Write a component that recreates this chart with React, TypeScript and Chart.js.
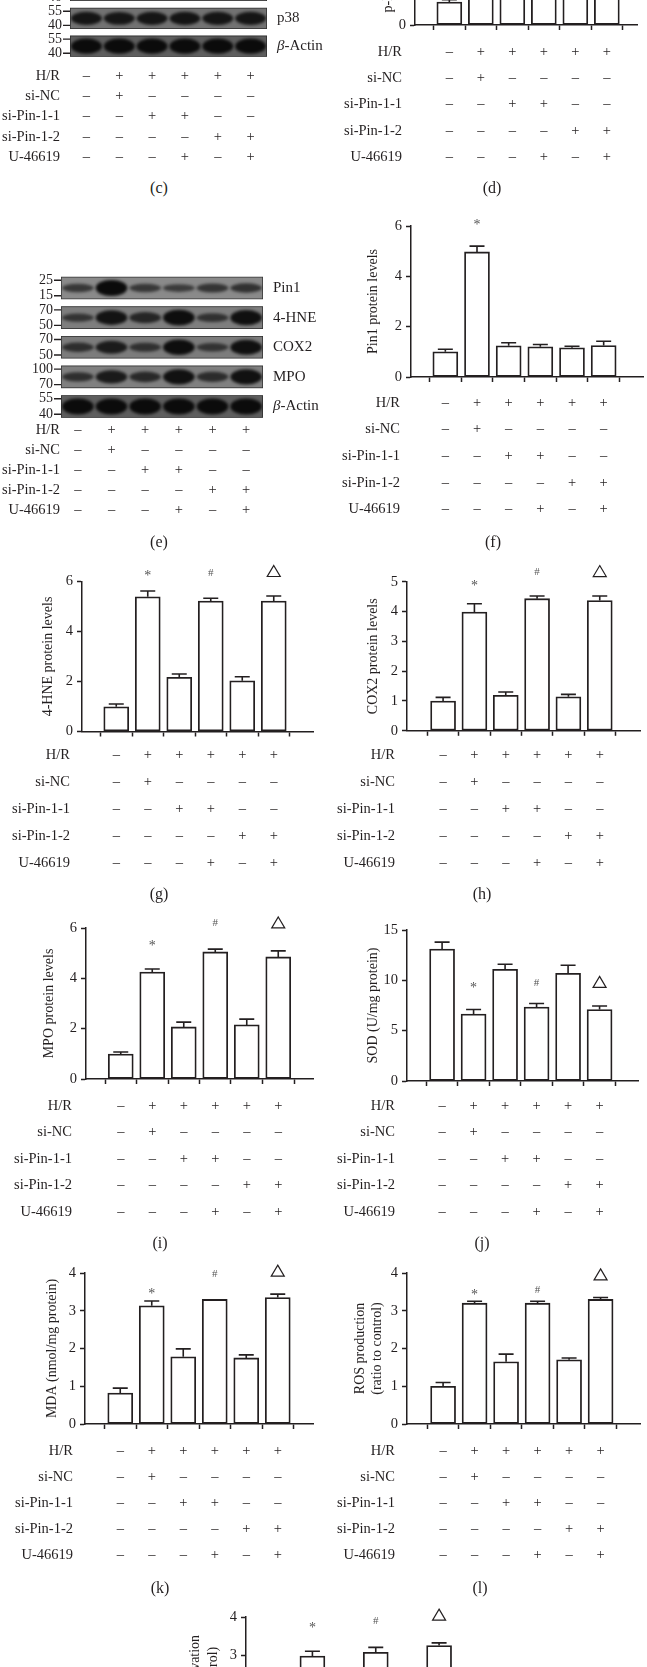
import React, { useEffect, useRef } from 'react';
import { Chart, registerables } from 'chart.js';
Chart.register(...registerables);

const FONT = '"Liberation Serif", "Times New Roman", serif';
const INK = '#231f20';

// ---------- shared treatment table ----------
const groupIdx = [0, 1, 2, 3, 4, 5];
const conditionRows = ['H/R', 'si-NC', 'si-Pin-1-1', 'si-Pin-1-2', 'U-46619'];
const condHR = ['–', '+', '+', '+', '+', '+'];
const condSiNC = ['–', '+', '–', '–', '–', '–'];
const condSiPin11 = ['–', '–', '+', '+', '–', '–'];
const condSiPin12 = ['–', '–', '–', '–', '+', '+'];
const condU46619 = ['–', '–', '–', '+', '–', '+'];
const conditionTable = [condHR, condSiNC, condSiPin11, condSiPin12, condU46619];

// ---------- (c) western blot ----------
const blotCNames = ['p-P38', 'p38', 'β-Actin'];
const blotCMwTop = ['55', '55', '55'];
const blotCMwBottom = ['40', '40', '40'];
const bandPP38 = [0.3, 0.9, 0.5, 0.9, 0.5, 0.9];
const bandP38 = [0.8, 0.78, 0.8, 0.82, 0.8, 0.8];
const bandActinC = [1, 1, 1, 1, 1, 1];

// ---------- (e) western blot ----------
const blotENames = ['Pin1', '4-HNE', 'COX2', 'MPO', 'β-Actin'];
const blotEMwTop = ['25', '70', '70', '100', '55'];
const blotEMwBottom = ['15', '50', '50', '70', '40'];
const bandPin1 = [0.3, 1.0, 0.3, 0.25, 0.35, 0.4];
const band4HNE = [0.3, 0.85, 0.55, 0.95, 0.35, 0.9];
const bandCOX2 = [0.4, 0.7, 0.35, 0.95, 0.3, 0.9];
const bandMPO = [0.4, 0.75, 0.5, 0.9, 0.45, 0.9];
const bandActinE = [1, 1, 1, 1, 1, 1];

// ---------- bar chart values (mean, SEM, significance marks) ----------
const dMeans = [1.0, 3.6, 1.6, 3.8, 1.7, 3.7];
const dSem = [0.1, 0.2, 0.15, 0.2, 0.15, 0.2];
const dMarks = ['', '*', '', '#', '', '△'];
const dMarkLevels = [0, 4.3, 0, 4.5, 0, 4.5];

const fMeans = [1.0, 4.97, 1.24, 1.2, 1.16, 1.25];
const fSem = [0.1, 0.23, 0.12, 0.09, 0.06, 0.17];
const fMarks = ['', '*', '', '', '', ''];
const fMarkLevels = [0, 6.16, 0, 0, 0, 0];

const gMeans = [0.99, 5.39, 2.17, 5.22, 2.03, 5.22];
const gSem = [0.11, 0.23, 0.13, 0.11, 0.16, 0.2];
const gMarks = ['', '*', '', '#', '', '△'];
const gMarkLevels = [0, 6.36, 0, 6.36, 0, 6.4];

const hMeans = [1.0, 3.98, 1.19, 4.43, 1.14, 4.37];
const hSem = [0.12, 0.28, 0.11, 0.09, 0.08, 0.15];
const hMarks = ['', '*', '', '#', '', '△'];
const hMarkLevels = [0, 4.97, 0, 5.34, 0, 5.34];

const iMeans = [0.99, 4.25, 2.07, 5.05, 2.15, 4.85];
const iSem = [0.08, 0.12, 0.19, 0.11, 0.23, 0.24];
const iMarks = ['', '*', '', '#', '', '△'];
const iMarkLevels = [0, 5.4, 0, 6.2, 0, 6.2];

const jMeans = [13.1, 6.65, 11.1, 7.35, 10.7, 7.1];
const jSem = [0.7, 0.45, 0.5, 0.35, 0.8, 0.35];
const jMarks = ['', '*', '', '#', '', '△'];
const jMarkLevels = [0, 9.5, 0, 9.8, 0, 9.8];

const kMeans = [0.82, 3.13, 1.78, 3.3, 1.75, 3.35];
const kSem = [0.13, 0.13, 0.21, 0, 0.08, 0.09];
const kMarks = ['', '*', '', '#', '', '△'];
const kMarkLevels = [0, 3.52, 0, 4.0, 0, 4.05];

const lMeans = [1.0, 3.2, 1.65, 3.2, 1.7, 3.3];
const lSem = [0.1, 0.05, 0.2, 0.05, 0.05, 0.05];
const lMarks = ['', '*', '', '#', '', '△'];
const lMarkLevels = [0, 3.5, 0, 3.55, 0, 3.95];

const mMeans = [1.0, 2.97, 1.6, 3.07, 1.65, 3.25];
const mSem = [0.1, 0.13, 0.2, 0.13, 0.1, 0.07];
const mMarks = ['', '*', '', '#', '', '△'];
const mMarkLevels = [0, 3.79, 0, 3.92, 0, 4.05];

// ---------- plugins ----------
function tablePlugin(t: any) {
  return {
    id: 'condTable',
    afterDraw(chart: any) {
      const ctx = chart.ctx;
      const xs = chart.scales.x;
      const base = chart.chartArea.bottom;
      ctx.save();
      ctx.font = `14.5px ${FONT}`;
      ctx.fillStyle = INK;
      ctx.textBaseline = 'middle';
      conditionRows.forEach((name, r) => {
        const y = base + t.rowOffset + r * t.rowGap;
        ctx.textAlign = 'right';
        ctx.fillText(name, t.labelRight - t.canvasX, y);
        ctx.textAlign = 'center';
        conditionTable[r].forEach((v, c) => {
          ctx.fillText(v, xs.getPixelForValue(groupIdx[c]), y);
        });
      });
      ctx.restore();
    },
  };
}

function errorBarPlugin(means: number[], sems: number[]) {
  return {
    id: 'errBars',
    afterDatasetsDraw(chart: any) {
      const ctx = chart.ctx;
      const ys = chart.scales.y;
      const meta = chart.getDatasetMeta(0);
      ctx.save();
      ctx.strokeStyle = INK;
      ctx.lineWidth = 1.6;
      meta.data.forEach((bar: any, i: number) => {
        if (!sems[i]) return;
        const top = ys.getPixelForValue(means[i] + sems[i]);
        ctx.beginPath();
        ctx.moveTo(bar.x, bar.y);
        ctx.lineTo(bar.x, top);
        ctx.moveTo(bar.x - 7.5, top);
        ctx.lineTo(bar.x + 7.5, top);
        ctx.stroke();
      });
      ctx.restore();
    },
  };
}

function markPlugin(marks: string[], levels: number[]) {
  return {
    id: 'sigMarks',
    afterDraw(chart: any) {
      const ctx = chart.ctx;
      const ys = chart.scales.y;
      const meta = chart.getDatasetMeta(0);
      ctx.save();
      meta.data.forEach((bar: any, i: number) => {
        const m = marks[i];
        if (!m) return;
        const x = bar.x;
        const y = ys.getPixelForValue(levels[i]);
        if (m === '△') {
          ctx.strokeStyle = INK;
          ctx.lineWidth = 1.2;
          ctx.beginPath();
          ctx.moveTo(x, y - 6);
          ctx.lineTo(x + 6.5, y + 5);
          ctx.lineTo(x - 6.5, y + 5);
          ctx.closePath();
          ctx.stroke();
        } else {
          ctx.fillStyle = '#555';
          ctx.font = `${m === '*' ? 14 : 11}px ${FONT}`;
          ctx.textAlign = 'center';
          ctx.textBaseline = 'alphabetic';
          const mt = ctx.measureText(m);
          const base = y + (mt.actualBoundingBoxAscent - mt.actualBoundingBoxDescent) / 2;
          ctx.fillText(m, x, base);
        }
      });
      ctx.restore();
    },
  };
}

function titlePlugin(lines: string[], xs: number[], canvasX: number) {
  return {
    id: 'yTitle',
    afterDraw(chart: any) {
      const ctx = chart.ctx;
      const a = chart.chartArea;
      const cy = (a.top + a.bottom) / 2;
      ctx.save();
      ctx.font = `14px ${FONT}`;
      ctx.fillStyle = INK;
      ctx.textAlign = 'center';
      ctx.textBaseline = 'middle';
      lines.forEach((ln, k) => {
        ctx.save();
        ctx.translate(xs[k] - canvasX, cy);
        ctx.rotate(-Math.PI / 2);
        ctx.fillText(ln, 0, 0);
        ctx.restore();
      });
      ctx.restore();
    },
  };
}

function drawProteinName(ctx: any, name: string, x: number, y: number) {
  ctx.textAlign = 'left';
  ctx.textBaseline = 'middle';
  if (name.startsWith('β')) {
    ctx.font = `italic 15px ${FONT}`;
    ctx.fillText('β', x, y);
    const w = ctx.measureText('β').width;
    ctx.font = `15px ${FONT}`;
    ctx.fillText(name.slice(1), x + w, y);
  } else {
    ctx.font = `15px ${FONT}`;
    ctx.fillText(name, x, y);
  }
}

function blotPlugin(b: any) {
  return {
    id: 'blot',
    afterDatasetsDraw(chart: any) {
      const ctx = chart.ctx;
      const xs = chart.scales.x;
      const ys = chart.scales.y;
      const a = chart.chartArea;
      const S = Math.abs(ys.getPixelForValue(1) - ys.getPixelForValue(0));
      const lane = xs.getPixelForValue(1) - xs.getPixelForValue(0);
      ctx.save();
      b.strips.forEach((st: any, si: number) => {
        const cy = ys.getPixelForValue(si);
        const h = S * 0.76;
        const top = cy - h / 2;
        // strip background
        ctx.save();
        ctx.beginPath();
        ctx.rect(a.left, top, a.right - a.left, h);
        ctx.clip();
        ctx.fillStyle = st.bg;
        ctx.fillRect(a.left, top, a.right - a.left, h);
        ctx.filter = 'blur(1.4px)';
        st.bands.forEach((k: number, c: number) => {
          const cx = xs.getPixelForValue(groupIdx[c]);
          const bh = h * (0.22 + 0.5 * k);
          ctx.globalAlpha = 0.5 + 0.5 * k;
          ctx.fillStyle = '#0b0b0b';
          ctx.beginPath();
          ctx.ellipse(cx, cy, lane * 0.47, bh / 2, 0, 0, Math.PI * 2);
          ctx.fill();
        });
        ctx.filter = 'none';
        ctx.globalAlpha = 1;
        ctx.strokeStyle = 'rgba(30,30,30,0.8)';
        ctx.lineWidth = 1.5;
        ctx.strokeRect(a.left, top, a.right - a.left, h);
        ctx.restore();
        // MW labels + ticks
        ctx.fillStyle = INK;
        ctx.strokeStyle = INK;
        ctx.lineWidth = 1.3;
        ctx.font = `14px ${FONT}`;
        ctx.textAlign = 'right';
        ctx.textBaseline = 'middle';
        const yT = top + 3.5;
        const yB = top + h - 3.5;
        ctx.fillText(st.mwTop, a.left - 8, yT);
        ctx.fillText(st.mwBottom, a.left - 8, yB);
        ctx.beginPath();
        ctx.moveTo(a.left - 7, yT);
        ctx.lineTo(a.left, yT);
        ctx.moveTo(a.left - 7, yB);
        ctx.lineTo(a.left, yB);
        ctx.stroke();
        drawProteinName(ctx, st.name, a.right + 10, cy);
      });
      ctx.restore();
    },
  };
}

// ---------- configs ----------
function barConfig(s: any) {
  const Wy = 30;
  const Hx = 5;
  const padL = s.axisX - s.canvas.x - Wy;
  const padR = s.canvas.x + s.canvas.w - s.xEnd;
  const padT = s.topY - s.canvas.y;
  const padB = s.canvas.y + s.canvas.h - s.zeroY - Hx;
  const xmin = -(s.firstTick - s.axisX) / s.spacing;
  const xmax = xmin + (s.xEnd - s.axisX) / s.spacing;
  return {
    type: 'bar',
    data: {
      datasets: [
        {
          data: groupIdx.map((g, i) => ({ x: g, y: s.means[i] })),
          backgroundColor: '#ffffff',
          borderColor: INK,
          borderWidth: 1.8,
          borderSkipped: false,
          barThickness: 25,
        },
      ],
    },
    options: {
      responsive: false,
      animation: false,
      devicePixelRatio: 1,
      events: [],
      layout: { padding: { left: padL, right: padR, top: padT, bottom: padB } },
      plugins: { legend: { display: false }, tooltip: { enabled: false } },
      scales: {
        x: {
          type: 'linear',
          min: xmin,
          max: xmax,
          ticks: { display: false, stepSize: 1, includeBounds: false },
          grid: { drawOnChartArea: false, drawTicks: true, tickLength: 5, tickWidth: 1.5, color: INK },
          border: { display: true, color: INK, width: 1.5 },
          afterFit: (sc: any) => {
            sc.height = Hx;
          },
        },
        y: {
          type: 'linear',
          min: 0,
          max: s.ymax,
          ticks: { stepSize: s.step, font: { family: FONT, size: 14.5 }, color: INK, padding: 4 },
          grid: { drawOnChartArea: false, drawTicks: true, tickLength: 5, tickWidth: 1.5, color: INK },
          border: { display: true, color: INK, width: 1.5 },
          afterFit: (sc: any) => {
            sc.width = Wy;
          },
        },
      },
    },
    plugins: [
      errorBarPlugin(s.means, s.sems),
      markPlugin(s.marks, s.markLevels),
      titlePlugin(s.title, s.titleX, s.canvas.x),
      tablePlugin({ rowOffset: s.rowOffset, rowGap: s.rowGap, labelRight: s.labelRight, canvasX: s.canvas.x }),
    ],
  };
}

function blotConfig(b: any) {
  const n = b.strips.length;
  return {
    type: 'scatter',
    data: {
      datasets: b.strips.map((st: any, si: number) => ({
        data: st.bands.map((_k: number, c: number) => ({ x: groupIdx[c], y: si })),
        pointRadius: 0,
      })),
    },
    options: {
      responsive: false,
      animation: false,
      devicePixelRatio: 1,
      events: [],
      layout: {
        padding: {
          left: b.left - b.canvas.x,
          right: b.canvas.x + b.canvas.w - b.right,
          top: b.top - b.canvas.y,
          bottom: b.canvas.y + b.canvas.h - b.bottom,
        },
      },
      plugins: { legend: { display: false }, tooltip: { enabled: false } },
      scales: {
        x: { type: 'linear', display: false, min: -0.5, max: 5.5 },
        y: { type: 'linear', display: false, min: -0.5, max: n - 0.5, reverse: true },
      },
    },
    plugins: [
      blotPlugin(b),
      tablePlugin({ rowOffset: b.rowOffset, rowGap: b.rowGap, labelRight: b.labelRight, canvasX: b.canvas.x }),
    ],
  };
}

// ---------- panel specs (layout only) ----------
const blotC = {
  canvas: { x: 0, y: -40, w: 330, h: 210 },
  left: 70, right: 267, top: -23.4, bottom: 60.1,
  strips: [
    { name: blotCNames[0], mwTop: blotCMwTop[0], mwBottom: blotCMwBottom[0], bands: bandPP38, bg: '#7a7a7a' },
    { name: blotCNames[1], mwTop: blotCMwTop[1], mwBottom: blotCMwBottom[1], bands: bandP38, bg: '#727272' },
    { name: blotCNames[2], mwTop: blotCMwTop[2], mwBottom: blotCMwBottom[2], bands: bandActinC, bg: '#5e5e5e' },
  ],
  rowOffset: 16, rowGap: 20.2, labelRight: 60,
};

const blotE = {
  canvas: { x: 0, y: 250, w: 330, h: 280 },
  left: 61, right: 263, top: 273.2, bottom: 421.3,
  strips: [
    { name: blotENames[0], mwTop: blotEMwTop[0], mwBottom: blotEMwBottom[0], bands: bandPin1, bg: '#8a8a8a' },
    { name: blotENames[1], mwTop: blotEMwTop[1], mwBottom: blotEMwBottom[1], bands: band4HNE, bg: '#7e7e7e' },
    { name: blotENames[2], mwTop: blotEMwTop[2], mwBottom: blotEMwBottom[2], bands: bandCOX2, bg: '#7c7c7c' },
    { name: blotENames[3], mwTop: blotEMwTop[3], mwBottom: blotEMwBottom[3], bands: bandMPO, bg: '#808080' },
    { name: blotENames[4], mwTop: blotEMwTop[4], mwBottom: blotEMwBottom[4], bands: bandActinE, bg: '#5e5e5e' },
  ],
  rowOffset: 8.7, rowGap: 20, labelRight: 60,
};

const barD = {
  canvas: { x: 330, y: -140, w: 317, h: 310 },
  axisX: 415, xEnd: 637, firstTick: 434, spacing: 37.8, zeroY: 25, topY: -113, ymax: 6, step: 2,
  means: dMeans, sems: dSem, marks: dMarks, markLevels: dMarkLevels,
  title: ['p-P38 protein levels'], titleX: [388],
  rowOffset: 27, rowGap: 26.25, labelRight: 402,
};
const barF = {
  canvas: { x: 330, y: 190, w: 317, h: 340 },
  axisX: 411, xEnd: 643, firstTick: 429, spacing: 38, zeroY: 377, topY: 226, ymax: 6, step: 2,
  means: fMeans, sems: fSem, marks: fMarks, markLevels: fMarkLevels,
  title: ['Pin1 protein levels'], titleX: [373],
  rowOffset: 26, rowGap: 26.6, labelRight: 400,
};
const barG = {
  canvas: { x: 0, y: 545, w: 330, h: 340 },
  axisX: 82, xEnd: 313, firstTick: 100, spacing: 37.8, zeroY: 731.5, topY: 581.5, ymax: 6, step: 2,
  means: gMeans, sems: gSem, marks: gMarks, markLevels: gMarkLevels,
  title: ['4-HNE protein levels'], titleX: [48],
  rowOffset: 23.5, rowGap: 27, labelRight: 70,
};
const barH = {
  canvas: { x: 330, y: 545, w: 317, h: 340 },
  axisX: 407, xEnd: 640, firstTick: 427, spacing: 37.6, zeroY: 730.8, topY: 581.7, ymax: 5, step: 1,
  means: hMeans, sems: hSem, marks: hMarks, markLevels: hMarkLevels,
  title: ['COX2 protein levels'], titleX: [373],
  rowOffset: 24, rowGap: 27, labelRight: 395,
};
const barI = {
  canvas: { x: 0, y: 890, w: 330, h: 340 },
  axisX: 86, xEnd: 313, firstTick: 105, spacing: 37.8, zeroY: 1079, topY: 928, ymax: 6, step: 2,
  means: iMeans, sems: iSem, marks: iMarks, markLevels: iMarkLevels,
  title: ['MPO protein levels'], titleX: [49],
  rowOffset: 27, rowGap: 26.5, labelRight: 72,
};
const barJ = {
  canvas: { x: 330, y: 890, w: 317, h: 340 },
  axisX: 407, xEnd: 638, firstTick: 426, spacing: 37.8, zeroY: 1081, topY: 930, ymax: 15, step: 5,
  means: jMeans, sems: jSem, marks: jMarks, markLevels: jMarkLevels,
  title: ['SOD (U/mg protein)'], titleX: [373],
  rowOffset: 25, rowGap: 26.5, labelRight: 395,
};
const barK = {
  canvas: { x: 0, y: 1240, w: 330, h: 340 },
  axisX: 85, xEnd: 313, firstTick: 104.5, spacing: 37.8, zeroY: 1424, topY: 1273, ymax: 4, step: 1,
  means: kMeans, sems: kSem, marks: kMarks, markLevels: kMarkLevels,
  title: ['MDA (nmol/mg protein)'], titleX: [52],
  rowOffset: 27, rowGap: 26, labelRight: 73,
};
const barL = {
  canvas: { x: 330, y: 1240, w: 317, h: 340 },
  axisX: 407, xEnd: 640, firstTick: 427, spacing: 37.8, zeroY: 1424, topY: 1273, ymax: 4, step: 1,
  means: lMeans, sems: lSem, marks: lMarks, markLevels: lMarkLevels,
  title: ['ROS production', '(ratio to control)'], titleX: [360, 377],
  rowOffset: 27, rowGap: 26, labelRight: 395,
};
const barM = {
  canvas: { x: 0, y: 1590, w: 520, h: 200 },
  axisX: 246, xEnd: 478, firstTick: 264.5, spacing: 38, zeroY: 1769, topY: 1617, ymax: 4, step: 1,
  means: mMeans, sems: mSem, marks: mMarks, markLevels: mMarkLevels,
  title: ['Caspase-3 activation', '(ratio to control)'], titleX: [195, 213],
  rowOffset: 27, rowGap: 26, labelRight: 234,
};

const panelLabels = [
  { t: '(c)', x: 159, y: 188 },
  { t: '(d)', x: 492, y: 188 },
  { t: '(e)', x: 159, y: 542 },
  { t: '(f)', x: 493, y: 542 },
  { t: '(g)', x: 159, y: 894 },
  { t: '(h)', x: 482, y: 894 },
  { t: '(i)', x: 160, y: 1243 },
  { t: '(j)', x: 482, y: 1243 },
  { t: '(k)', x: 160, y: 1588 },
  { t: '(l)', x: 480, y: 1588 },
];

function ChartBox({ spec, build }: { spec: any; build: (s: any) => any }) {
  const ref = useRef<HTMLCanvasElement>(null);
  useEffect(() => {
    const chart = new Chart(ref.current as HTMLCanvasElement, build(spec));
    return () => chart.destroy();
  }, [spec, build]);
  return (
    <canvas
      ref={ref}
      width={spec.canvas.w}
      height={spec.canvas.h}
      style={{
        position: 'absolute',
        left: spec.canvas.x,
        top: spec.canvas.y,
        width: spec.canvas.w,
        height: spec.canvas.h,
      }}
    />
  );
}

export default function App() {
  return (
    <div
      style={{
        position: 'absolute',
        left: 0,
        top: 0,
        width: 647,
        height: 1667,
        overflow: 'hidden',
        background: '#ffffff',
      }}
    >
      <ChartBox spec={blotC} build={blotConfig} />
      <ChartBox spec={blotE} build={blotConfig} />
      <ChartBox spec={barD} build={barConfig} />
      <ChartBox spec={barF} build={barConfig} />
      <ChartBox spec={barG} build={barConfig} />
      <ChartBox spec={barH} build={barConfig} />
      <ChartBox spec={barI} build={barConfig} />
      <ChartBox spec={barJ} build={barConfig} />
      <ChartBox spec={barK} build={barConfig} />
      <ChartBox spec={barL} build={barConfig} />
      <ChartBox spec={barM} build={barConfig} />
      {panelLabels.map((p) => (
        <div
          key={p.t}
          style={{
            position: 'absolute',
            left: p.x,
            top: p.y,
            transform: 'translate(-50%, -50%)',
            fontFamily: FONT,
            fontSize: 16,
            lineHeight: 1,
            color: INK,
            whiteSpace: 'nowrap',
          }}
        >
          {p.t}
        </div>
      ))}
    </div>
  );
}
